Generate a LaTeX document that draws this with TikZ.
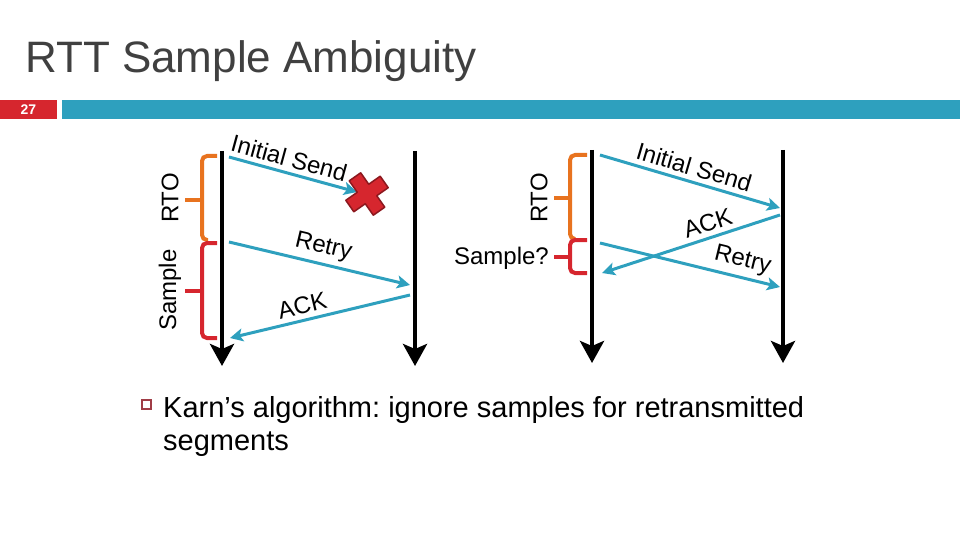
\documentclass[tikz,border=0pt]{standalone}
\usepackage{fontspec}
\setmainfont{Liberation Sans}
\usetikzlibrary{arrows.meta}
\definecolor{teal1}{RGB}{46,160,190}
\definecolor{orng}{RGB}{232,115,31}
\definecolor{redb}{RGB}{214,38,46}
\definecolor{darkred}{RGB}{140,24,30}
\definecolor{titlegray}{RGB}{64,64,64}
\definecolor{bulletred}{RGB}{160,60,70}
\tikzset{
  timeline/.style={line width=4.5pt,-{Stealth[width=24pt,length=22pt,inset=5pt]}},
  msg/.style={draw=teal1,line width=3pt,-{Stealth[width=13pt,length=13pt,inset=3pt]}},
  msgrev/.style={draw=teal1,line width=3pt,{Stealth[width=13pt,length=13pt,inset=3pt]}-},
  lbl/.style={font=\fontsize{24}{28}\selectfont,inner sep=4.5pt,sloped},
  side/.style={font=\fontsize{24}{28}\selectfont,inner sep=0pt},
  bracketO/.style={draw=orng,line width=4pt,rounded corners=5pt},
  bracketR/.style={draw=redb,line width=4pt,rounded corners=5pt},
}
\begin{document}
\frenchspacing
\begin{tikzpicture}[x=1pt,y=-1pt]
\useasboundingbox (0,0) rectangle (960,540);
% header
\node[anchor=base west,inner sep=0pt,text=titlegray,font=\fontsize{44}{48}\selectfont] (title) at (25,73) {RTT Sample Ambiguity};
\fill[redb] (0,100) rectangle (57,119);
\node[text=white,font=\fontsize{14}{16}\selectfont\bfseries] (num) at (28.5,109.5) {27};
\fill[teal1] (62,100) rectangle (960,119);

% ---------- left diagram ----------
\coordinate (a1t) at (222,151); \coordinate (a1b) at (222,366);
\coordinate (a2t) at (415,151); \coordinate (a2b) at (415,366);
\draw[timeline] (a1t) -- (a1b);
\draw[timeline] (a2t) -- (a2b);
\coordinate (is1) at (229,157); \coordinate (is2) at (357,192);
\draw[msg] (is1) -- node[lbl,above,pos=0.44] {Initial Send} (is2);
\coordinate (rt1) at (229,242); \coordinate (rt2) at (410,285);
\draw[msg] (rt1) -- node[lbl,above,pos=0.5] {Retry} (rt2);
\coordinate (ak1) at (410,295); \coordinate (ak2) at (230,338);
\draw[msgrev] (ak2) -- node[lbl,above,pos=0.42] {ACK} (ak1);
% cross
\begin{scope}[shift={(367,194)},rotate=35]
\draw[draw=darkred,fill=redb,line width=1.5pt,line join=round]
  (-7,-21) -- (7,-21) -- (7,-7) -- (21,-7) -- (21,7) -- (7,7) -- (7,21) -- (-7,21) -- (-7,7) -- (-21,7) -- (-21,-7) -- (-7,-7) -- cycle;
\end{scope}
% brackets
\draw[bracketO] (217,156) -- (202,156) -- (202,240) -- (208,240);
\draw[draw=orng,line width=4pt] (202,200) -- (185,200);
\draw[bracketR] (217,243) -- (202,243) -- (202,338) -- (217,338);
\draw[draw=redb,line width=4pt] (202,291) -- (185,291);
\node[side,rotate=90] (rtoL) at (170,198) {RTO};
\node[side,rotate=90] (samL) at (170,290) {Sample};

% ---------- right diagram ----------
\coordinate (b1t) at (592,150); \coordinate (b1b) at (592,363);
\coordinate (b2t) at (783,150); \coordinate (b2b) at (783,363);
\draw[timeline] (b1t) -- (b1b);
\draw[timeline] (b2t) -- (b2b);
\coordinate (js1) at (600,155); \coordinate (js2) at (780,208);
\draw[msg] (js1) -- node[lbl,above,pos=0.5] {Initial Send} (js2);
\coordinate (bk1) at (780,215); \coordinate (bk2) at (602,273);
\draw[msgrev] (bk2) -- node[lbl,above,pos=0.62] {ACK} (bk1);
\coordinate (rr1) at (600,243); \coordinate (rr2) at (780,287);
\draw[msg] (rr1) -- node[lbl,above,pos=0.77] {Retry} (rr2);
\draw[bracketO] (587,155) -- (570,155) -- (570,239) -- (575,239);
\draw[draw=orng,line width=4pt] (570,198) -- (554,198);
\draw[bracketR] (587,240) -- (570,240) -- (570,273) -- (587,273);
\draw[draw=redb,line width=4pt] (570,257) -- (554,257);
\node[side,rotate=90] (rtoR) at (539,198) {RTO};
\node[side,anchor=east] (samR) at (549,258) {Sample?};

% ---------- bullet ----------
\draw[draw=bulletred,line width=1.2pt] (142,400) rectangle (151,409);
\node[anchor=base west,inner sep=0pt,align=left,font=\fontsize{29}{33}\selectfont] (karn) at (163,450)
  {Karn’s algorithm: ignore samples for retransmitted\\segments};
\end{tikzpicture}
\end{document}
